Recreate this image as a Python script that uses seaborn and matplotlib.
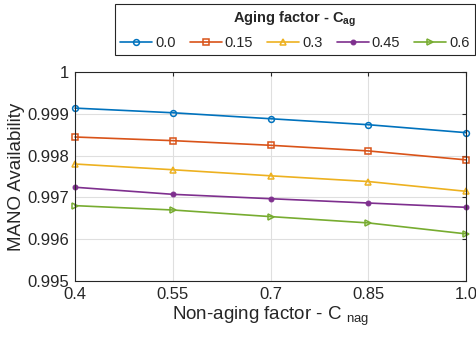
import numpy as np
import pandas as pd
import seaborn as sns
import matplotlib
matplotlib.use("Agg")
from matplotlib import pyplot as plt
from matplotlib.lines import Line2D

# data
c_nag = [0.4, 0.55, 0.7, 0.85, 1.0]
c_ag = ["0.0", "0.15", "0.3", "0.45", "0.6"]
avail_00 = [0.999135, 0.999024, 0.998881, 0.998738, 0.998548]
avail_015 = [0.998444, 0.998357, 0.998246, 0.998111, 0.997897]
avail_03 = [0.997798, 0.997661, 0.997516, 0.997379, 0.997145]
avail_045 = [0.997242, 0.997073, 0.996968, 0.996865, 0.996762]
avail_06 = [0.996802, 0.996698, 0.996540, 0.996389, 0.996127]
x_ticks = [0.4, 0.55, 0.7, 0.85, 1.0]
x_ticklabels = ["0.4", "0.55", "0.7", "0.85", "1.0"]
y_ticks = [0.995, 0.996, 0.997, 0.998, 0.999, 1.0]
y_ticklabels = ["0.995", "0.996", "0.997", "0.998", "0.999", "1"]

series = [avail_00, avail_015, avail_03, avail_045, avail_06]
colors = ["#0072BD", "#D95319", "#EDB120", "#7E2F8E", "#77AC30"]
markers = ["o", "s", "^", ".", ">"]

df = pd.DataFrame({
    "c_nag": np.tile(c_nag, len(c_ag)),
    "avail": np.concatenate(series),
    "c_ag": np.repeat(c_ag, len(c_nag)),
})

sns.set_style("white")
plt.rcParams["font.family"] = ["Liberation Sans", "DejaVu Sans"]
plt.rcParams["mathtext.fontset"] = "custom"
plt.rcParams["mathtext.rm"] = "Liberation Sans"
plt.rcParams["mathtext.bf"] = "Liberation Sans:bold"

fig = plt.figure(figsize=(4.76, 3.41), dpi=100)
ax = fig.add_axes([0.1576, 0.176, 0.8214, 0.613])

for lab, col, mk in zip(c_ag, colors, markers):
    sub = df[df["c_ag"] == lab]
    if mk == ".":
        kw = dict(markersize=7, markerfacecolor=col)
    else:
        kw = dict(markersize=4.2, markerfacecolor="none", markeredgewidth=1.1)
    sns.lineplot(data=sub, x="c_nag", y="avail", ax=ax, color=col,
                 marker=mk, markeredgecolor=col, linewidth=1.2,
                 label=lab, clip_on=False, **kw)

ax.set_xlim(0.4, 1.0)
ax.set_ylim(0.995, 1.0)
ax.set_xticks(x_ticks)
ax.set_xticklabels(x_ticklabels)
ax.set_yticks(y_ticks)
ax.set_yticklabels(y_ticklabels)
ax.tick_params(labelsize=12, colors="#262626", direction="in", length=3,
               top=True, right=True, pad=4)
ax.grid(True, color="#dfdfdf", linewidth=0.8)
for s in ax.spines.values():
    s.set_color("#262626")
    s.set_linewidth(0.8)
ax.set_xlabel("Non-aging factor - C $_{\\mathrm{nag}}$", fontsize=13.5, color="#262626", labelpad=2)
ax.set_ylabel("MANO Availability", fontsize=13.5, color="#262626", labelpad=2)

handles, labels = ax.get_legend_handles_labels()
ax.get_legend().remove()
leg = fig.legend(handles, labels, loc="lower left", ncol=5, mode="expand",
                 bbox_to_anchor=(0.2416, 0.839, 0.756, 0.147),
                 title="Aging factor - $\\mathbf{C_{ag}}$", fontsize=10.5,
                 handlelength=2.2, handletextpad=0.2, columnspacing=0.6,
                 borderaxespad=0, borderpad=0.35, fancybox=False,
                 edgecolor="#262626", framealpha=1)
leg.get_title().set_fontweight("bold")
leg.get_title().set_fontsize(10.5)
leg.get_frame().set_linewidth(0.8)
fig.add_artist(Line2D([0.2416, 0.9976], [0.907, 0.907], color="#262626",
                      linewidth=0.8, transform=fig.transFigure))

fig.savefig("out.png", dpi=100)
